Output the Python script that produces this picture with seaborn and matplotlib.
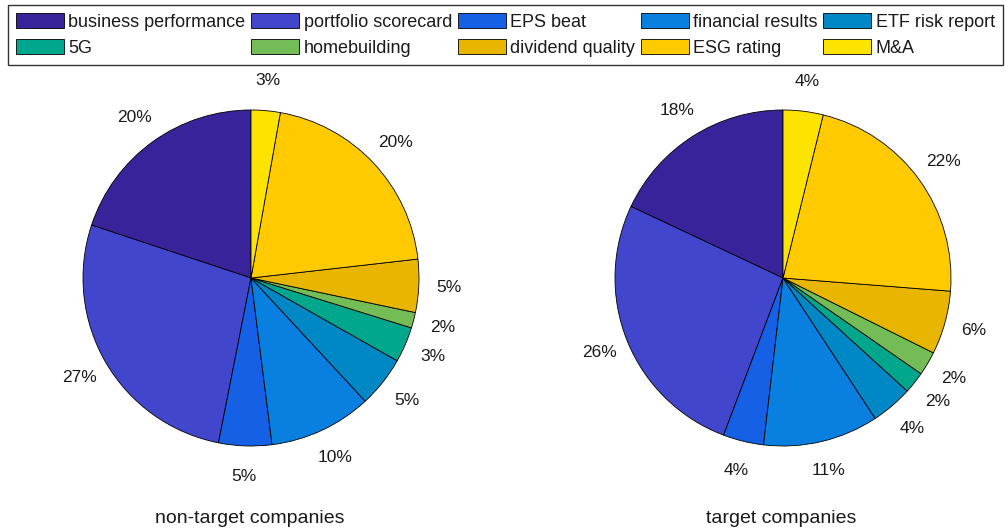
import matplotlib
matplotlib.use("Agg")
import matplotlib.pyplot as plt
import seaborn as sns

categories = ["business performance", "portfolio scorecard", "EPS beat",
              "financial results", "ETF risk report", "5G", "homebuilding",
              "dividend quality", "ESG rating", "M&A"]
non_target = [19.9, 27.0, 5.1, 9.9, 4.9, 3.4, 1.5, 5.1, 20.4, 2.8]
target = [18.0, 26.25, 3.9, 11.1, 4.0, 2.1, 2.3, 6.1, 22.4, 3.85]
panel_titles = ["non-target companies", "target companies"]

colors = ["#38239A", "#4146CD", "#1560E4", "#0980E0", "#0088C6",
          "#00A78C", "#74BD56", "#E8B600", "#FFCA00", "#FDE300"]

sns.set_theme(style="white")
plt.rcParams['font.family'] = ['Liberation Sans', 'DejaVu Sans']

W, H = 1005, 528
fig = plt.figure(figsize=(W / 100, H / 100), dpi=100)

r = 168.0
lim = 1.3
centers = [(251, 278), (783, 278)]
wedges_all = []
for (cx, cy), vals, title in zip(centers, [non_target, target], panel_titles):
    half = r * lim
    ax = fig.add_axes([(cx - half) / W, (H - cy - half) / H, 2 * half / W, 2 * half / H])
    labels = [f"{round(v)}%" for v in vals]
    wedges, texts = ax.pie(vals, labels=labels, colors=colors, startangle=90,
                           counterclock=True, labeldistance=1.18,
                           wedgeprops=dict(edgecolor="black", linewidth=0.6),
                           textprops=dict(ha="center", va="center", fontsize=12.5, color="#1a1a1a"))
    ax.set_xlim(-lim, lim)
    ax.set_ylim(-lim, lim)
    ax.set_aspect("equal")
    ax.axis("off")
    ax.text(-0.01, -1.43, title, ha="center", va="center", fontsize=14, color="#1a1a1a")
    wedges_all.append(wedges)

# matplotlib fills legend columns first, MATLAB fills rows first
ncol = 5
order = [i + ncol * j for i in range(ncol) for j in range(2)]
leg = fig.legend([wedges_all[0][k] for k in order], [categories[k] for k in order],
                 ncol=ncol, mode="expand", loc="lower left",
                 bbox_to_anchor=(8 / W, 1 - 65 / H, 995 / W, 62 / H),
                 borderaxespad=0,
                 fontsize=13, handlelength=2.65, handleheight=0.9,
                 handletextpad=0.25, labelspacing=0.45, borderpad=0.45,
                 columnspacing=0.5, fancybox=False, framealpha=1)
leg.get_frame().set_edgecolor("#333333")
leg.get_frame().set_linewidth(1.0)
for t in leg.get_texts():
    t.set_color("#1a1a1a")

fig.savefig("out.png", dpi=100)
